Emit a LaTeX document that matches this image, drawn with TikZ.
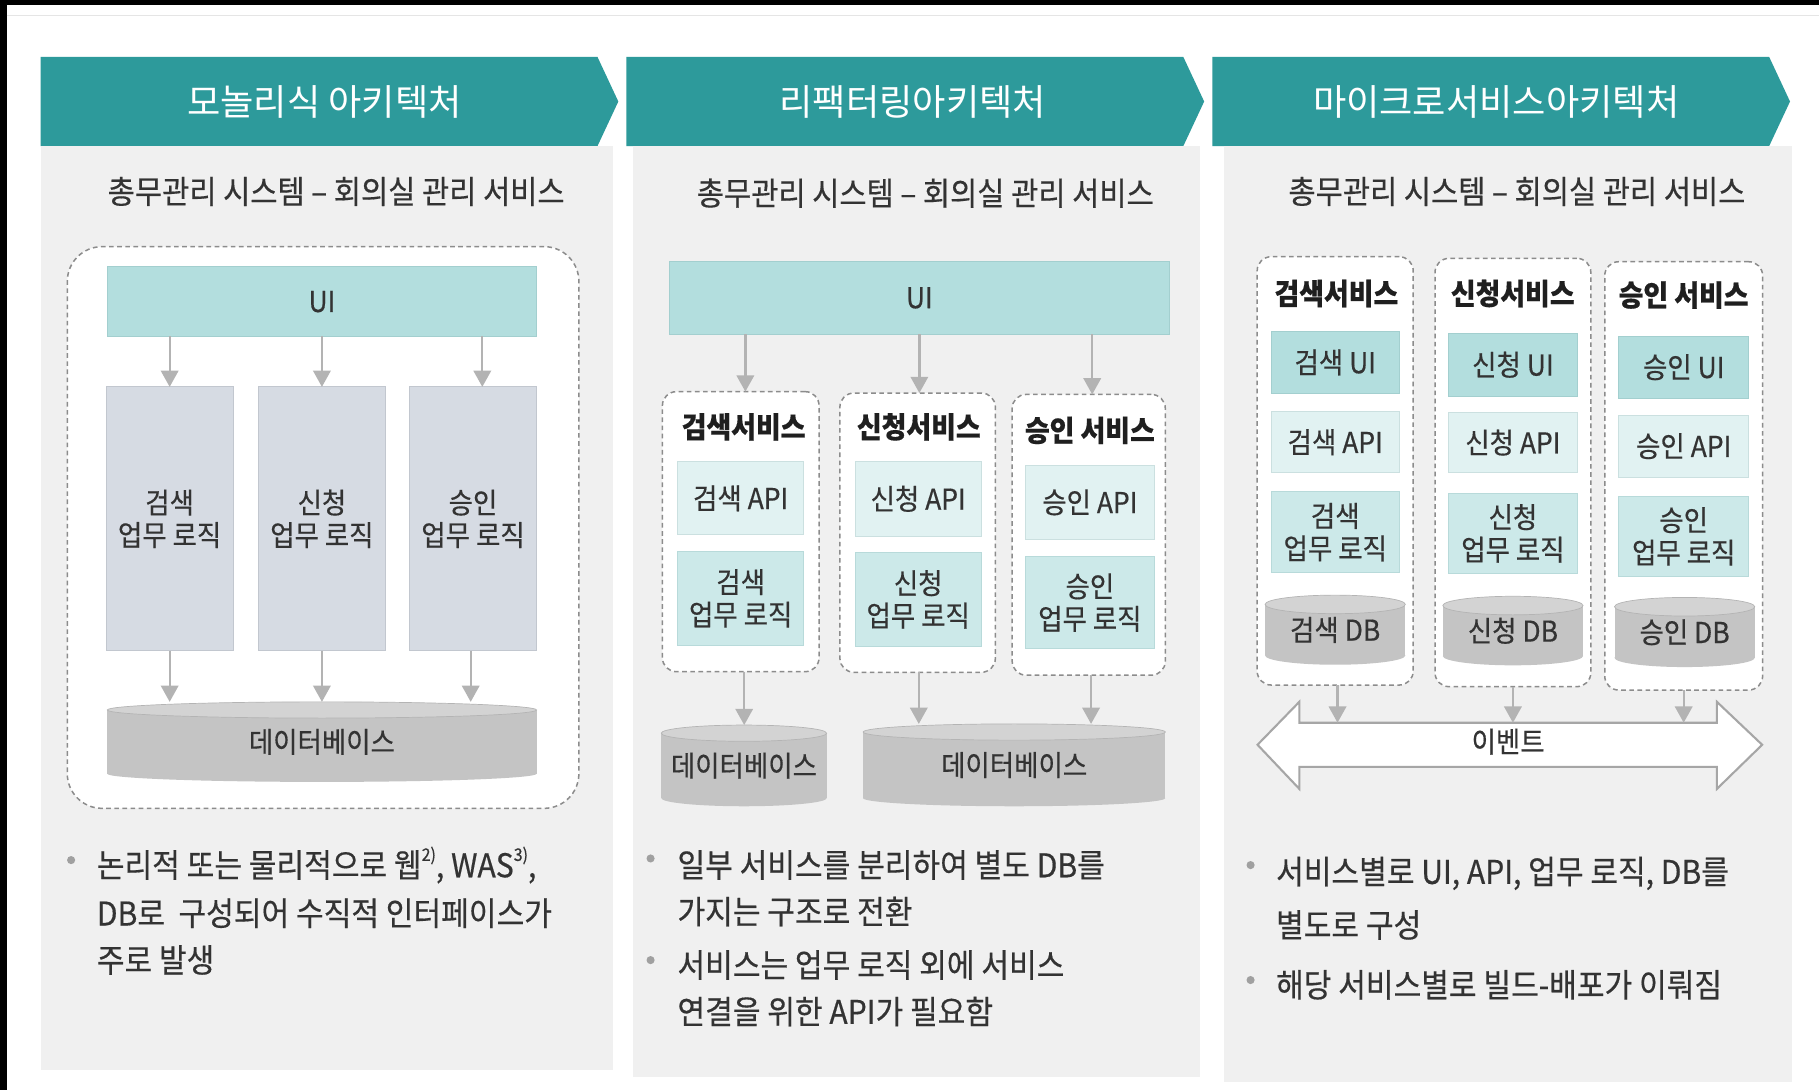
\documentclass[tikz,border=0pt]{standalone}
\usepackage{fontspec}
\setmainfont{Noto Sans CJK KR}[FakeStretch=0.92, FakeBold=0.45]
\newfontfamily\banfont{Noto Sans CJK KR}
\usetikzlibrary{arrows.meta}
\definecolor{tealban}{HTML}{2D9A9B}
\definecolor{panelbg}{HTML}{F0F0F0}
\definecolor{uifill}{HTML}{B3DEDE}
\definecolor{uidraw}{HTML}{A3CFCF}
\definecolor{apifill}{HTML}{E1F2F2}
\definecolor{apidraw}{HTML}{CBE0E0}
\definecolor{logicfill}{HTML}{CCE9E9}
\definecolor{logicdraw}{HTML}{B8DADA}
\definecolor{greylogic}{HTML}{D6DBE3}
\definecolor{greylogicdraw}{HTML}{C2C7CF}
\definecolor{dbbody}{HTML}{C4C4C4}
\definecolor{dbtop}{HTML}{D3D3D3}
\definecolor{arrowgray}{HTML}{B3B3B3}
\definecolor{dashgray}{HTML}{8C8C8C}
\definecolor{evgray}{HTML}{A6A6A6}
\definecolor{bulletc}{HTML}{A0A0A0}
\definecolor{txt}{HTML}{333333}
\newcommand\rbox[7]{\node[#2, minimum width={(#5)-(#3)}, minimum height={(#6)-(#4)}] (#1) at ({((#3)+(#5))/2},{((#4)+(#6))/2}) {#7};}
\newcommand\dbcyl[7]{%
  \fill[dbbody] ({((#2)+(#3))/2},#5) ellipse [x radius={((#3)-(#2))/2*1pt}, y radius={#6*1pt}];
  \fill[dbbody] (#2,#4) rectangle (#3,#5);
  \filldraw[fill=dbtop, draw=dbbody!92!black, line width=0.6pt] ({((#2)+(#3))/2},#4) ellipse [x radius={((#3)-(#2))/2*1pt}, y radius={#6*1pt}];
  \node[lbl, minimum width={(#3)-(#2)}, minimum height={(#5)-(#4)+2*(#6)}] (#1) at ({((#2)+(#3))/2},{((#4)+(#5))/2}) {#7};}
\newcommand\supnum[1]{\raisebox{0.5em}{\fontsize{15}{15}\selectfont #1}}
\begin{document}
\begin{tikzpicture}[x=1pt,y=-1pt,
  every node/.style={inner sep=0pt, outer sep=0pt, text=txt},
  lbl/.style={font=\fontsize{24.8}{28}\selectfont, align=center},
  uibox/.style={lbl, fill=uifill, draw=uidraw, line width=0.8pt},
  apibox/.style={lbl, fill=apifill, draw=apidraw, line width=0.8pt},
  logicbox/.style={lbl, fill=logicfill, draw=logicdraw, line width=0.8pt},
  graybox/.style={lbl, fill=greylogic, draw=greylogicdraw, line width=0.8pt},
  svc/.style={draw=dashgray, dash pattern=on 4pt off 3pt, line width=1.3pt, fill=white, rounded corners=12pt},
  hdr/.style={font=\bfseries\fontsize{25.2}{28}\selectfont, text=black!88},
  bantxt/.style={text=white, font=\banfont\fontsize{31.2}{38}\selectfont},
  subt/.style={font=\fontsize{27.7}{34}\selectfont},
  bline/.style={anchor=west, font=\fontsize{28.2}{34}\selectfont, text height=24pt, text depth=3pt},
  arr/.style={draw=arrowgray, line width=2pt, -{Triangle[width=15pt,length=14pt]}}]
\useasboundingbox (0,0) rectangle (1568,940);
\fill[white] (0,0) rectangle (1568,940);
\fill[black] (0,0) rectangle (1568,4);
\fill[black] (0,0) rectangle (6,940);
\draw[black!10, line width=1pt] (6,13) -- (1568,13);
% banners
\fill[tealban] (35,49) -- (515,49) -- (533,87.5) -- (515,126) -- (35,126) -- cycle;
\fill[tealban] (540,49) -- (1020,49) -- (1038,87.5) -- (1020,126) -- (540,126) -- cycle;
\fill[tealban] (1045,49) -- (1525,49) -- (1543,87.5) -- (1525,126) -- (1045,126) -- cycle;
\node[bantxt] (ban1) at (279.6,88) {모놀리식 아키텍처};
\node[bantxt] (ban2) at (786.9,88) {리팩터링아키텍처};
\node[bantxt] (ban3) at (1289.7,88) {마이크로서비스아키텍처};
% panels
\fill[panelbg] (35,126) rectangle (528,922);
\fill[panelbg] (546,126) rectangle (1034,928);
\fill[panelbg] (1055,126) rectangle (1545,933);
\node[subt] (sub1) at (289.8,165) {총무관리 시스템 – 회의실 관리 서비스};
\node[subt] (sub2) at (797.6,166.5) {총무관리 시스템 – 회의실 관리 서비스};
\node[subt] (sub3) at (1307.6,165) {총무관리 시스템 – 회의실 관리 서비스};

% ---------- panel 1
\rbox{mono}{svc, rounded corners=30pt}{58}{212.6}{499}{696.8}{}
\rbox{ui1}{uibox}{92.5}{230}{462.5}{290}{UI}
\rbox{l1a}{graybox}{91.5}{333.5}{201}{561}{검색\\업무 로직}
\rbox{l1b}{graybox}{222.5}{333.5}{332.5}{561}{신청\\업무 로직}
\rbox{l1c}{graybox}{353}{333.5}{462.5}{561}{승인\\업무 로직}
\dbcyl{db1}{92.5}{462.5}{612}{667}{7}{데이터베이스}
\draw[arr] (ui1.south -| l1a.north) -- (l1a.north);
\draw[arr] (ui1.south -| l1b.north) -- (l1b.north);
\draw[arr] ([xshift=8pt]ui1.south -| l1c.north) -- ([xshift=8pt]l1c.north);
\draw[arr] (l1a.south) -- (l1a.south |- db1.north);
\draw[arr] (l1b.south) -- (l1b.south |- db1.north);
\draw[arr] ([xshift=-2pt]l1c.south) -- ([xshift=-2pt]l1c.south |- db1.north);
\fill[bulletc] (61.3,741.4) circle [radius=3.5pt];
\node[bline] (t1a) at (83.5,745.7) {논리적 또는 물리적으로 웹\supnum{2)}, WAS\supnum{3)},};
\node[bline] (t1b) at (83.5,787.3) {DB로~~구성되어 수직적 인터페이스가};
\node[bline] (t1c) at (83.5,827.6) {주로 발생};

% ---------- panel 2
\rbox{ui2}{uibox}{577}{225.5}{1008}{288}{UI}
\rbox{s2a}{svc}{571}{337.6}{706}{579}{}
\rbox{s2b}{svc}{724}{338.8}{858}{579.5}{}
\rbox{s2c}{svc}{872.5}{340}{1004.5}{582}{}
\node[hdr] (h2a) at (641,368) {검색서비스};
\node[hdr] (h2b) at (792,368) {신청서비스};
\node[hdr] (h2c) at (939.5,371) {승인 서비스};
\rbox{a2a}{apibox}{584}{398}{693}{461}{검색 API}
\rbox{a2b}{apibox}{737}{398}{846}{462}{신청 API}
\rbox{a2c}{apibox}{884}{401}{995}{465}{승인 API}
\rbox{g2a}{logicbox}{584}{475.6}{693}{556}{검색\\업무 로직}
\rbox{g2b}{logicbox}{737}{476.4}{846}{557}{신청\\업무 로직}
\rbox{g2c}{logicbox}{884}{480}{995}{559}{승인\\업무 로직}
\dbcyl{db21}{570}{712.6}{632}{688}{7}{데이터베이스}
\dbcyl{db22}{744}{1004.5}{631}{688}{7}{데이터베이스}
\draw[arr] ([xshift=4pt]ui2.south -| s2a.north) -- ([xshift=4pt]s2a.north);
\draw[arr] ([xshift=1.5pt]ui2.south -| s2b.north) -- ([xshift=1.5pt]s2b.north);
\draw[arr] ([xshift=3pt]ui2.south -| s2c.north) -- ([xshift=3pt]s2c.north);
\draw[arr] ([xshift=3pt]s2a.south) -- ([xshift=3pt]s2a.south |- db21.north);
\draw[arr] ([xshift=1pt]s2b.south) -- ([xshift=1pt]s2b.south |- db22.north);
\draw[arr] ([xshift=2pt]s2c.south) -- ([xshift=2pt]s2c.south |- db22.north);
\fill[bulletc] (560.8,740) circle [radius=3.5pt];
\fill[bulletc] (560.8,827.6) circle [radius=3.5pt];
\node[bline] (t2a) at (584,745.7) {일부 서비스를 분리하여 별도 DB를};
\node[bline] (t2b) at (584,785.9) {가지는 구조로 전환};
\node[bline] (t2c) at (584,831.9) {서비스는 업무 로직 외에 서비스};
\node[bline] (t2d) at (584,872.1) {연결을 위한 API가 필요함};

% ---------- panel 3
\rbox{s3a}{svc}{1083.7}{221.3}{1218.2}{590.5}{}
\rbox{s3b}{svc}{1237}{222.7}{1371.3}{591.9}{}
\rbox{s3c}{svc}{1383.3}{225.6}{1519.4}{594.8}{}
\node[hdr] (h3a) at (1152,253) {검색서비스};
\node[hdr] (h3b) at (1304,253) {신청서비스};
\node[hdr] (h3c) at (1451.3,254.3) {승인 서비스};
\rbox{u3a}{uibox}{1095.7}{285.9}{1206.3}{339}{검색 UI}
\rbox{u3b}{uibox}{1248.8}{287.4}{1359.5}{341.4}{신청 UI}
\rbox{u3c}{uibox}{1395.2}{289.7}{1507.6}{343.4}{승인 UI}
\rbox{p3a}{apibox}{1095.7}{354.9}{1206.3}{407.5}{검색 API}
\rbox{p3b}{apibox}{1248.8}{355.5}{1359.5}{407.5}{신청 API}
\rbox{p3c}{apibox}{1395.2}{357.8}{1507.6}{411.4}{승인 API}
\rbox{g3a}{logicbox}{1095.7}{423.8}{1206.3}{493.7}{검색\\업무 로직}
\rbox{g3b}{logicbox}{1248.8}{425.3}{1359.5}{494.3}{신청\\업무 로직}
\rbox{g3c}{logicbox}{1395.2}{427.6}{1507.6}{497.2}{승인\\업무 로직}
\dbcyl{d3a}{1090.5}{1211.4}{521}{565}{8}{검색 DB}
\dbcyl{d3b}{1243.7}{1364.6}{522}{565.5}{8}{신청 DB}
\dbcyl{d3c}{1391.7}{1512.6}{523}{567}{8}{승인 DB}
\filldraw[fill=white, draw=evgray, line width=1.8pt, line join=miter] (1084,642) -- (1120,605) -- (1120,623) -- (1480,623) -- (1480,605) -- (1519,642) -- (1480,680) -- (1480,661) -- (1120,661) -- (1120,680) -- cycle;
\coordinate (evtop) at (1300,623);
\node[lbl] (ev) at (1300,639.3) {이벤트};
\draw[arr] ([xshift=2pt]s3a.south) -- ([xshift=2pt]s3a.south |- evtop);
\draw[arr] (s3b.south) -- (s3b.south |- evtop);
\draw[arr] (s3c.south) -- (s3c.south |- evtop);
\fill[bulletc] (1078,745.7) circle [radius=3.5pt];
\fill[bulletc] (1078,844.8) circle [radius=3.5pt];
\node[bline] (t3a) at (1100,751.4) {서비스별로 UI, API, 업무 로직, DB를};
\node[bline] (t3b) at (1100,797.4) {별도로 구성};
\node[bline] (t3c) at (1100,849) {해당 서비스별로 빌드-배포가 이뤄짐};
\end{tikzpicture}
\end{document}
